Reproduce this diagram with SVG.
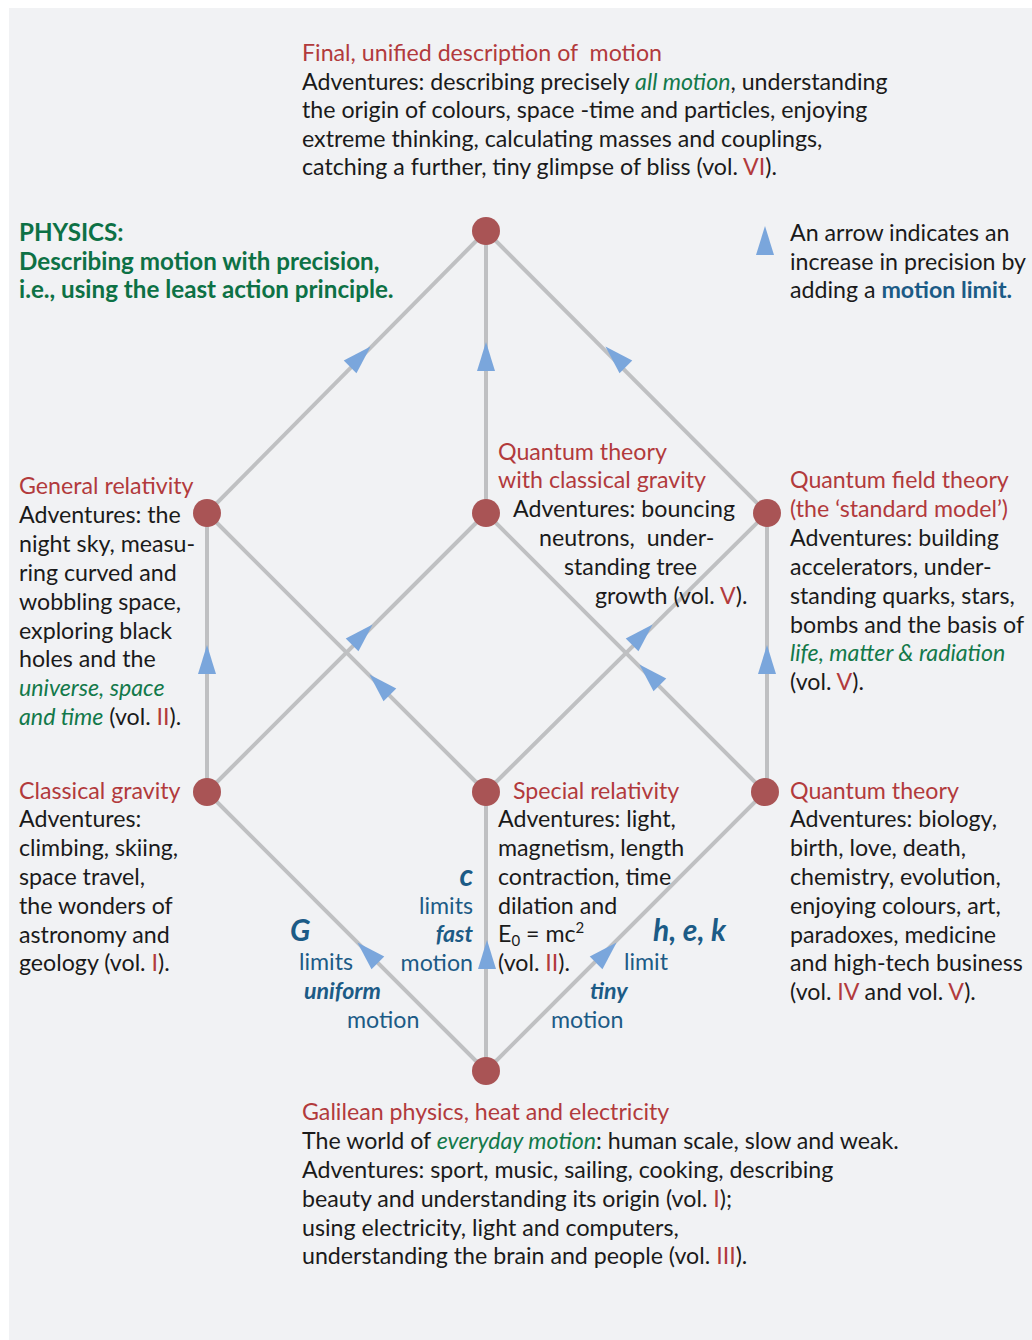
<svg xmlns="http://www.w3.org/2000/svg" xmlns:xlink="http://www.w3.org/1999/xlink" width="1032" height="1340" viewBox="0 0 1032 1340">
<style>
text{font-family:Lato,"Open Sans","Liberation Sans",sans-serif;font-size:23.2px;fill:#1a1a1a}
.t{fill:#b23a3c}
.g{fill:#13794a;font-style:italic}
.r{fill:#b23a3c}
.p{fill:#0d7145;font-weight:bold;font-size:24.2px}
.b{fill:#1c5b86}
.bb{fill:#1c5b86;font-weight:bold;font-style:italic}
.big{font-size:30px}
.e{stroke:#bfc0c2;stroke-width:4;fill:none}
.n{fill:#a95455}
.a{fill:#7aa6dc}
.lm{fill:#1c5b86;font-weight:bold}
</style>
<defs>
<path id="ah" d="M0,-15 L9,14 L-9,14 Z"/>
</defs>
<rect x="9" y="8" width="1023" height="1332" fill="#f1f2f4"/>
<g id="connectors">
<line class="e" x1="486" y1="1071" x2="207" y2="792"/>
<line class="e" x1="486" y1="1071" x2="486" y2="792"/>
<line class="e" x1="486" y1="1071" x2="765" y2="792"/>
<line class="e" x1="207" y1="792" x2="207" y2="513"/>
<line class="e" x1="207" y1="792" x2="486" y2="513"/>
<line class="e" x1="486" y1="792" x2="207" y2="513"/>
<line class="e" x1="486" y1="792" x2="767" y2="513"/>
<line class="e" x1="765" y1="792" x2="486" y2="513"/>
<line class="e" x1="767" y1="792" x2="767" y2="513"/>
<line class="e" x1="207" y1="513" x2="486" y2="231"/>
<line class="e" x1="486" y1="513" x2="486" y2="231"/>
<line class="e" x1="767" y1="513" x2="486" y2="231"/>
<use xlink:href="#ah" class="a" transform="translate(368,953) rotate(-45)"/>
<use xlink:href="#ah" class="a" transform="translate(487,955)"/>
<use xlink:href="#ah" class="a" transform="translate(606,953) rotate(45)"/>
<use xlink:href="#ah" class="a" transform="translate(207,660)"/>
<use xlink:href="#ah" class="a" transform="translate(767,660)"/>
<use xlink:href="#ah" class="a" transform="translate(362,635) rotate(45)"/>
<use xlink:href="#ah" class="a" transform="translate(380,685) rotate(-45)"/>
<use xlink:href="#ah" class="a" transform="translate(642,635) rotate(45)"/>
<use xlink:href="#ah" class="a" transform="translate(650,675) rotate(-45)"/>
<use xlink:href="#ah" class="a" transform="translate(360,357) rotate(45)"/>
<use xlink:href="#ah" class="a" transform="translate(486,357)"/>
<use xlink:href="#ah" class="a" transform="translate(616,357) rotate(-45)"/>
</g>
<g id="final">
<circle class="n" cx="486" cy="231" r="14"/>
<text x="302" y="61" class="t" xml:space="preserve">Final, unified description of  motion</text>
<text x="302" y="90">Adventures: describing precisely <tspan class="g">all motion</tspan>, understanding</text>
<text x="302" y="118">the origin of colours, space -time and particles, enjoying</text>
<text x="302" y="147">extreme thinking, calculating masses and couplings,</text>
<text x="302" y="175">catching a further, tiny glimpse of bliss (vol. <tspan class="r">VI</tspan>).</text>
</g>
<g id="physics">
<text x="19" y="241" class="p">PHYSICS:</text>
<text x="19" y="270" class="p">Describing motion with precision,</text>
<text x="19" y="298" class="p">i.e., using the least action principle.</text>
</g>
<g id="legend">
<use xlink:href="#ah" class="a" transform="translate(765,241)"/>
<text x="790" y="241">An arrow indicates an</text>
<text x="790" y="270">increase in precision by</text>
<text x="790" y="298">adding a <tspan class="lm">motion limit.</tspan></text>
</g>
<g id="general-relativity">
<circle class="n" cx="207" cy="513" r="14"/>
<text x="19" y="494" class="t">General relativity</text>
<text x="19" y="523">Adventures: the</text>
<text x="19" y="552">night sky, measu-</text>
<text x="19" y="581">ring curved and</text>
<text x="19" y="610">wobbling space,</text>
<text x="19" y="639">exploring black</text>
<text x="19" y="667">holes and the</text>
<text x="19" y="696" class="g">universe, space</text>
<text x="19" y="725"><tspan class="g">and time</tspan> (vol. <tspan class="r">II</tspan>).</text>
</g>
<g id="quantum-classical-gravity">
<circle class="n" cx="486" cy="513" r="14"/>
<text x="498" y="460" class="t">Quantum theory</text>
<text x="498" y="488" class="t">with classical gravity</text>
<text x="513" y="517">Adventures: bouncing</text>
<text x="539" y="546" xml:space="preserve">neutrons,  under-</text>
<text x="564" y="575">standing tree</text>
<text x="595" y="604">growth (vol. <tspan class="r">V</tspan>).</text>
</g>
<g id="qft">
<circle class="n" cx="767" cy="513" r="14"/>
<text x="790" y="488" class="t">Quantum field theory</text>
<text x="790" y="517" class="t">(the ‘standard model’)</text>
<text x="790" y="546">Adventures: building</text>
<text x="790" y="575">accelerators, under-</text>
<text x="790" y="604">standing quarks, stars,</text>
<text x="790" y="633">bombs and the basis of</text>
<text x="790" y="661" class="g">life, matter &amp; radiation</text>
<text x="790" y="690">(vol. <tspan class="r">V</tspan>).</text>
</g>
<g id="classical-gravity">
<circle class="n" cx="207" cy="792" r="14"/>
<text x="19" y="799" class="t">Classical gravity</text>
<text x="19" y="827">Adventures:</text>
<text x="19" y="856">climbing, skiing,</text>
<text x="19" y="885">space travel,</text>
<text x="19" y="914">the wonders of</text>
<text x="19" y="943">astronomy and</text>
<text x="19" y="971">geology (vol. <tspan class="r">I</tspan>).</text>
</g>
<g id="special-relativity">
<circle class="n" cx="486" cy="792" r="14"/>
<text x="513" y="799" class="t">Special relativity</text>
<text x="498" y="827">Adventures: light,</text>
<text x="498" y="856">magnetism, length</text>
<text x="498" y="885">contraction, time</text>
<text x="498" y="914">dilation and</text>
<text x="498" y="942">E<tspan font-size="15" dy="4">0</tspan><tspan dy="-4"> = mc</tspan><tspan font-size="15" dy="-9">2</tspan></text>
<text x="498" y="971">(vol. <tspan class="r">II</tspan>).</text>
</g>
<g id="quantum-theory">
<circle class="n" cx="765" cy="792" r="14"/>
<text x="790" y="799" class="t">Quantum theory</text>
<text x="790" y="827">Adventures: biology,</text>
<text x="790" y="856">birth, love, death,</text>
<text x="790" y="885">chemistry, evolution,</text>
<text x="790" y="914">enjoying colours, art,</text>
<text x="790" y="943">paradoxes, medicine</text>
<text x="790" y="971">and high-tech business</text>
<text x="790" y="1000">(vol. <tspan class="r">IV</tspan> and vol. <tspan class="r">V</tspan>).</text>
</g>
<g id="limit-G">
<text x="290" y="941" class="bb big">G</text>
<text x="299" y="970" class="b">limits</text>
<text x="304" y="999" class="bb">uniform</text>
<text x="347" y="1028" class="b">motion</text>
</g>
<g id="limit-c">
<text x="473" y="886" class="bb big" text-anchor="end">c</text>
<text x="473" y="914" class="b" text-anchor="end">limits</text>
<text x="473" y="942" class="bb" text-anchor="end">fast</text>
<text x="473" y="971" class="b" text-anchor="end">motion</text>
</g>
<g id="limit-hek">
<text x="653" y="941" class="bb big">h, e, k</text>
<text x="624" y="970" class="b">limit</text>
<text x="590" y="999" class="bb">tiny</text>
<text x="551" y="1028" class="b">motion</text>
</g>
<g id="galilean">
<circle class="n" cx="486" cy="1071" r="14"/>
<text x="302" y="1120" class="t">Galilean physics, heat and electricity</text>
<text x="302" y="1149">The world of <tspan class="g">everyday motion</tspan>: human scale, slow and weak.</text>
<text x="302" y="1178">Adventures: sport, music, sailing, cooking, describing</text>
<text x="302" y="1207">beauty and understanding its origin (vol. <tspan class="r">I</tspan>);</text>
<text x="302" y="1236">using electricity, light and computers,</text>
<text x="302" y="1264">understanding the brain and people (vol. <tspan class="r">III</tspan>).</text>
</g>
</svg>
